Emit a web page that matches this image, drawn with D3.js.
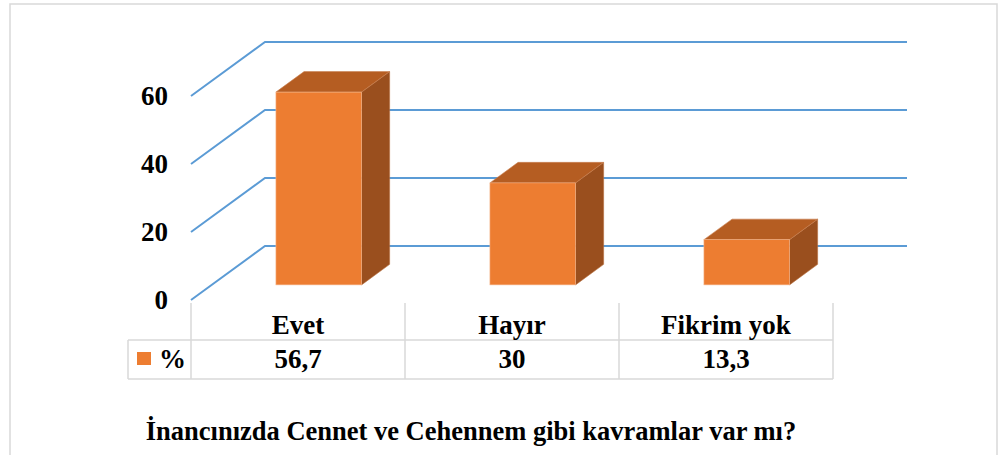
<!DOCTYPE html>
<html>
<head>
<meta charset="utf-8">
<script src="https://cdn.jsdelivr.net/npm/d3@7"></script>
<style>
  body { margin: 0; background: #fff; }
  svg { display: block; }
</style>
</head>
<body>
<svg id="chart"></svg>
<script>
var categories = ["Evet", "Hayır", "Fikrim yok"]
var values = [56.7, 30, 13.3]
var valueLabels = ["56,7", "30", "13,3"]
var yTicks = [0, 20, 40, 60]
var seriesName = "%"
var title = "İnancınızda Cennet ve Cehennem gibi kavramlar var mı?"

var dimensions = ({
    width: 1003,
    height: 455,
    plot: { left: 191, right: 833, top: 96, bottom: 300 },
    depth: { dx: 74, dy: 54 },
    table: { left: 128, mid: 340, bottom: 379 }
})

var font = "'Liberation Serif', 'Times New Roman', serif"

var svg = d3.select("#chart")
            .attr("width", dimensions.width)
            .attr("height", dimensions.height)

// outer frame
svg.append("rect")
   .attr("x", 10).attr("y", 4)
   .attr("width", 987).attr("height", 470)
   .attr("fill", "#fff")
   .attr("stroke", "#d9d9d9")
   .attr("stroke-width", 1.5)

var xScale = d3.scaleBand()
               .domain(categories)
               .range([dimensions.plot.left, dimensions.plot.right])
               .paddingInner(0.6)
               .paddingOuter(0.3)

var xTable = d3.scaleBand()
               .domain(categories)
               .range([dimensions.plot.left, dimensions.plot.right])

var yScale = d3.scaleLinear()
               .domain([0, 60])
               .range([dimensions.plot.bottom, dimensions.plot.top])

var dx = dimensions.depth.dx, dy = dimensions.depth.dy
var zFront = 0.28, zBack = 0.66

// gridlines: left wall diagonal + back wall
svg.append("g")
   .selectAll("path")
   .data(yTicks)
   .enter()
   .append("path")
   .attr("d", function(t) {
       var y0 = yScale(t)
       return "M" + dimensions.plot.left + "," + y0 +
              "L" + (dimensions.plot.left + dx) + "," + (y0 - dy) +
              "L" + (dimensions.plot.right + dx) + "," + (y0 - dy)
   })
   .attr("fill", "none")
   .attr("stroke", "#5b9bd5")
   .attr("stroke-width", 2)

// y axis labels
var yAxis = d3.axisLeft(yScale).tickValues(yTicks).tickSize(0).tickPadding(23)
var yg = svg.append("g")
   .attr("transform", "translate(" + dimensions.plot.left + ",0)")
   .call(yAxis)
yg.select(".domain").remove()
yg.selectAll("text")
  .style("font-family", font)
  .style("font-size", "27px")
  .style("font-weight", "bold")
  .attr("fill", "#000")

// 3D bars
var fx = zFront * dx, fy = zFront * dy
var bdx = (zBack - zFront) * dx, bdy = (zBack - zFront) * dy
var bw = xScale.bandwidth()

var bars = svg.append("g")
              .selectAll("g")
              .data(values)
              .enter()
              .append("g")

bars.append("path")
    .attr("d", function(d, i) {
        var x0 = xScale(categories[i]) + fx + bw, yt = yScale(d) - fy, yb = yScale(0) - fy
        return "M" + x0 + "," + yt + "L" + (x0 + bdx) + "," + (yt - bdy) +
               "L" + (x0 + bdx) + "," + (yb - bdy) + "L" + x0 + "," + yb + "Z"
    })
    .attr("fill", "#9a4f1e")
    .attr("stroke", "#b8703f").attr("stroke-width", 0.6)

bars.append("path")
    .attr("d", function(d, i) {
        var x0 = xScale(categories[i]) + fx, yt = yScale(d) - fy
        return "M" + x0 + "," + yt + "L" + (x0 + bw) + "," + yt +
               "L" + (x0 + bw + bdx) + "," + (yt - bdy) + "L" + (x0 + bdx) + "," + (yt - bdy) + "Z"
    })
    .attr("fill", "#b55d22")
    .attr("stroke", "#c98050").attr("stroke-width", 0.6)

bars.append("rect")
    .attr("x", function(d, i) { return xScale(categories[i]) + fx })
    .attr("y", function(d) { return yScale(d) - fy })
    .attr("width", bw)
    .attr("height", function(d) { return yScale(0) - yScale(d) })
    .attr("fill", "#ed7d31")
    .attr("stroke", "#f5b890").attr("stroke-width", 0.6)

// data table
var tg = svg.append("g")
            .attr("stroke", "#d9d9d9")
            .attr("stroke-width", 1.5)

tg.selectAll("line.v")
  .data(categories.concat(["end"]))
  .enter()
  .append("line")
  .attr("x1", function(d, i) { return i < categories.length ? xTable(d) : dimensions.plot.right })
  .attr("x2", function(d, i) { return i < categories.length ? xTable(d) : dimensions.plot.right })
  .attr("y1", 303)
  .attr("y2", dimensions.table.bottom)

tg.append("line")
  .attr("x1", dimensions.table.left).attr("x2", dimensions.table.left)
  .attr("y1", dimensions.table.mid).attr("y2", dimensions.table.bottom)

tg.selectAll("line.h")
  .data([dimensions.table.mid, dimensions.table.bottom])
  .enter()
  .append("line")
  .attr("x1", dimensions.table.left).attr("x2", dimensions.plot.right)
  .attr("y1", function(d) { return d }).attr("y2", function(d) { return d })

var textStyle = function(sel, size) {
    sel.attr("font-family", font)
       .attr("font-size", size)
       .attr("font-weight", "bold")
       .attr("fill", "#000")
}

svg.append("g")
   .selectAll("text")
   .data(categories)
   .enter()
   .append("text")
   .attr("x", function(d) { return xTable(d) + xTable.bandwidth() / 2 })
   .attr("y", 334)
   .attr("text-anchor", "middle")
   .text(function(d) { return d })
   .call(textStyle, "27px")

svg.append("g")
   .selectAll("text")
   .data(valueLabels)
   .enter()
   .append("text")
   .attr("x", function(d, i) { return xTable(categories[i]) + xTable.bandwidth() / 2 })
   .attr("y", 368)
   .attr("text-anchor", "middle")
   .text(function(d) { return d })
   .call(textStyle, "27px")

// legend key in table
svg.append("rect")
   .attr("x", 137).attr("y", 352)
   .attr("width", 14).attr("height", 13)
   .attr("fill", "#ed7d31")

svg.append("text")
   .attr("x", 159).attr("y", 368)
   .text(seriesName)
   .call(textStyle, "27px")

// title
svg.append("text")
   .attr("x", 471).attr("y", 440)
   .attr("text-anchor", "middle")
   .text(title)
   .call(textStyle, "26.5px")
</script>
</body>
</html>
